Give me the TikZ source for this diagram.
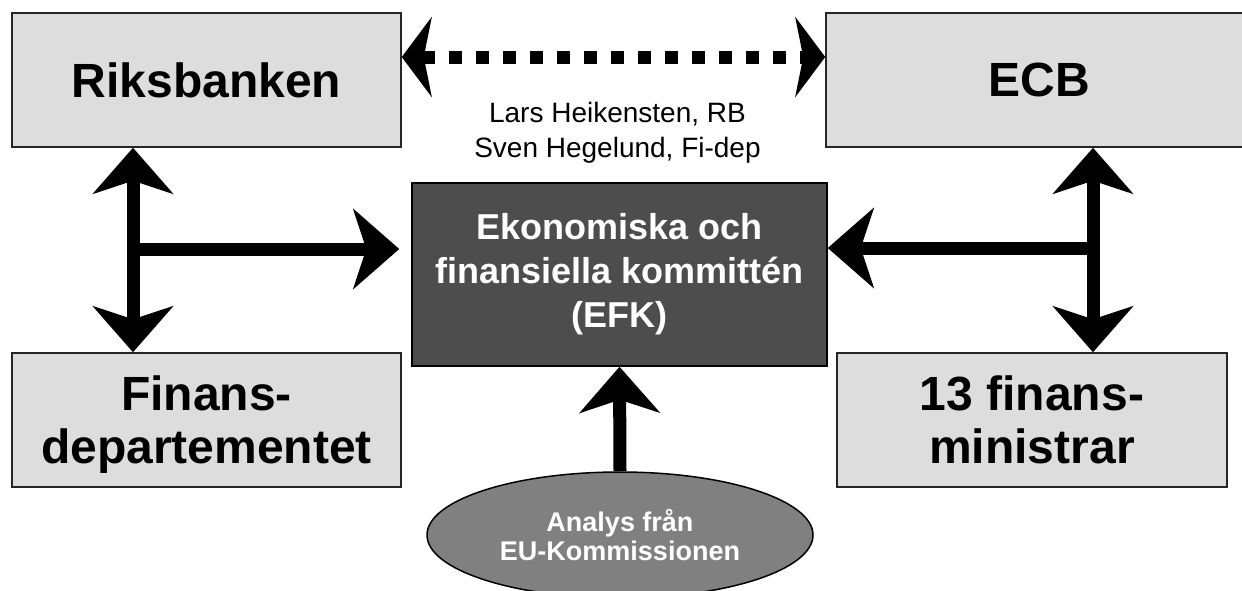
\documentclass[tikz,border=0pt]{standalone}
\usepackage{fontspec}
\setmainfont{Liberation Sans}
\usetikzlibrary{arrows.meta,shapes.geometric}
\definecolor{boxgray}{HTML}{DDDDDD}
\definecolor{efkgray}{HTML}{4D4D4D}
\definecolor{ovalgray}{HTML}{808080}
\begin{document}
\begin{tikzpicture}[x=1pt,y=-1pt,
    graybox/.style={draw=black!85, line width=1.5pt, fill=boxgray, inner sep=0pt, align=center, font=\fontsize{48}{53}\selectfont\bfseries},
    bigarrow/.style={line width=13pt, >={Stealth[length=46pt,width=80pt,inset=13pt]}},
    dotarrow/.style={line width=13pt, dash pattern=on 13pt off 14pt, >={Stealth[length=30pt,width=80pt,inset=8pt]}}]
        \clip (0,0) rectangle (1242,590);
        \node[graybox, minimum width=389pt, minimum height=134pt] (riks) at (206.5,80) {Riksbanken};
        \node[graybox, minimum width=426pt, minimum height=134pt] (ecb) at (1039,80) {ECB};
        \node[graybox, minimum width=389pt, minimum height=134pt, text depth=0pt] (fin) at (206.5,420) {Finans-\\departementet};
        \node[graybox, minimum width=390pt, minimum height=134pt] (min) at (1032,420) {13 finans-\\ministrar};
        \node[draw=black, line width=1.5pt, fill=efkgray, text=white, inner sep=0pt, align=center, minimum width=415pt, minimum height=183pt, font=\fontsize{36}{44}\selectfont\bfseries] (efk) at (619.5,274.5) {Ekonomiska och\\finansiella kommittén\\(EFK)};
        \node[ellipse, draw=black, line width=1.5pt, fill=ovalgray, text=white, inner sep=0pt, align=center, minimum width=386pt, minimum height=126pt, font=\fontsize{27}{29}\selectfont\bfseries] (ana) at (620,535) {Analys från\\EU-Kommissionen};
        \node[inner sep=0pt, align=center, font=\fontsize{28}{35}\selectfont] (names) at (617.5,132.5) {Lars Heikensten, RB\\Sven Hegelund, Fi-dep};
        
        \coordinate (lj) at (133,249);
        \coordinate (rj) at (1093,248);
        
        \draw[dotarrow, <->] ([yshift=23pt]riks.east) -- ([yshift=23pt]ecb.west);
        \draw[bigarrow, <->] (riks.south -| lj) -- (fin.north -| lj);
        \draw[bigarrow, ->, shorten >=12pt] (lj) -- (lj -| efk.west);
        \draw[bigarrow, <->] (ecb.south -| rj) -- (min.north -| rj);
        \draw[bigarrow, ->] (rj) -- (rj -| efk.east);
        \draw[bigarrow, ->] (ana.north) -- (efk.south);
      \end{tikzpicture}
\end{document}
